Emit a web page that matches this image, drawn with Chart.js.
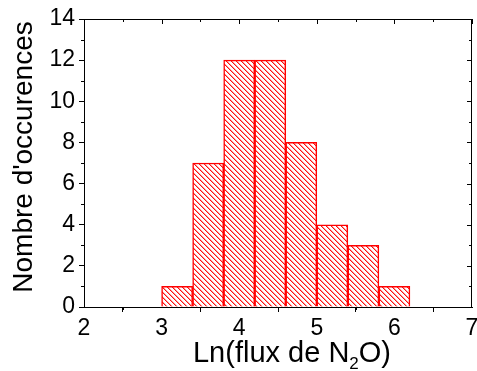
<!DOCTYPE html>
<html>
<head>
<meta charset="utf-8">
<script src="https://cdn.jsdelivr.net/npm/chart.js@4/dist/chart.umd.min.js"></script>
<style>
  body { margin: 0; background: #fff; }
</style>
</head>
<body>
<canvas id="histoN2O" width="477" height="371"></canvas>
<script>
// histogram of Ln(N2O flux), bins of width 0.4
const binCenters = [3.2, 3.6, 4.0, 4.4, 4.8, 5.2, 5.6, 6.0];
const counts = [1, 7, 12, 12, 8, 4, 3, 1];
const xTickValues = [2, 3, 4, 5, 6, 7];
const yTickValues = [0, 2, 4, 6, 8, 10, 12, 14];
const xMinorTicks = [2.5, 3.5, 4.5, 5.5, 6.5];
const yMinorTicks = [1, 3, 5, 7, 9, 11, 13];

const FONT = "'Liberation Sans', Arial, sans-serif";

// diagonal hatch "\\\" in red
function hatchPattern() {
    const size = 5;
    const c = document.createElement('canvas');
    c.width = size;
    c.height = size;
    const g = c.getContext('2d');
    g.fillStyle = '#fff';
    g.fillRect(0, 0, size, size);
    for (let i = 0; i < size; i++) {
        g.fillStyle = '#ff1010';
        g.fillRect(i, i, 1, 1);
        g.fillStyle = 'rgba(255,0,0,0.4)';
        g.fillRect((i + 1) % size, i, 1, 1);
    }
    return g.createPattern(c, 'repeat');
}

const ctx = document.getElementById('histoN2O').getContext('2d');

const framePlugin = {
    id: 'frame',
    afterDraw(chart) {
        const g = chart.ctx;
        const a = chart.chartArea;
        const xs = chart.scales.x;
        const ys = chart.scales.y;
        g.save();
        g.strokeStyle = '#000';
        g.lineWidth = 1;
        g.beginPath();
        // top and right border
        g.moveTo(a.left, a.top + 0.5);
        g.lineTo(a.right, a.top + 0.5);
        g.moveTo(a.right - 0.5, a.top);
        g.lineTo(a.right - 0.5, a.bottom);
        xTickValues.forEach(v => {
            const px = Math.round(xs.getPixelForValue(v)) + 0.5;
            g.moveTo(px, a.top);
            g.lineTo(px, a.top + 5);
        });
        xMinorTicks.forEach(v => {
            const px = Math.round(xs.getPixelForValue(v)) + 0.5;
            g.moveTo(px, a.top);
            g.lineTo(px, a.top + 3);
            g.moveTo(px, a.bottom);
            g.lineTo(px, a.bottom + 3);
        });
        yTickValues.forEach(v => {
            const py = Math.round(ys.getPixelForValue(v)) + 0.5;
            g.moveTo(a.right, py);
            g.lineTo(a.right - 5, py);
        });
        yMinorTicks.forEach(v => {
            const py = Math.round(ys.getPixelForValue(v)) + 0.5;
            g.moveTo(a.right, py);
            g.lineTo(a.right - 3, py);
            g.moveTo(a.left, py);
            g.lineTo(a.left - 3, py);
        });
        g.stroke();

        // axis titles
        g.fillStyle = '#000';
        g.textBaseline = 'alphabetic';
        // y title
        g.save();
        g.translate(32, 157);
        g.rotate(-Math.PI / 2);
        g.font = '28px ' + FONT;
        g.textAlign = 'center';
        g.fillText("Nombre d'occurences", 0, 0);
        g.restore();
        // x title with subscript
        const big = '29px ' + FONT;
        const small = '17px ' + FONT;
        g.textAlign = 'left';
        g.font = big;
        const p1 = 'Ln(flux de N', p3 = 'O)';
        const w1 = g.measureText(p1).width;
        const w3 = g.measureText(p3).width;
        g.font = small;
        const w2 = g.measureText('2').width;
        const total = w1 + w2 + w3;
        let x = 292 - total / 2;
        const base = 362;
        g.font = big;
        g.fillText(p1, x, base);
        x += w1;
        g.font = small;
        g.fillText('2', x, base + 7);
        x += w2;
        g.font = big;
        g.fillText(p3, x, base);
        g.restore();
    }
};

new Chart(ctx, {
    type: 'bar',
    data: {
        datasets: [{
            label: 'Occurences',
            data: binCenters.map((x, i) => ({ x: x, y: counts[i] })),
            backgroundColor: hatchPattern(),
            borderColor: '#ff0000',
            borderWidth: 1.5,
            barPercentage: 1,
            categoryPercentage: 1
        }]
    },
    options: {
        responsive: false,
        animation: false,
        layout: { padding: { top: 19, right: 5, left: 0, bottom: 0 } },
        plugins: {
            legend: { display: false },
            tooltip: { enabled: false }
        },
        scales: {
            x: {
                type: 'linear',
                min: 2,
                max: 7,
                offset: false,
                afterBuildTicks: s => { s.ticks = xTickValues.map(v => ({ value: v })); },
                afterFit: s => { s.height = 64; s.paddingLeft = 0; s.paddingRight = 0; },
                grid: { drawOnChartArea: false, tickLength: 5, color: '#000' },
                border: { color: '#000' },
                ticks: { color: '#000', padding: 3, maxRotation: 0, font: { size: 23, family: FONT } }
            },
            y: {
                min: 0,
                max: 14,
                afterBuildTicks: s => { s.ticks = yTickValues.map(v => ({ value: v })); },
                afterFit: s => { s.width = 84; s.paddingTop = 0; s.paddingBottom = 0; },
                grid: { drawOnChartArea: false, tickLength: 5, color: '#000' },
                border: { color: '#000' },
                ticks: { color: '#000', padding: 4, font: { size: 23, family: FONT } }
            }
        }
    },
    plugins: [framePlugin]
});
</script>
</body>
</html>
